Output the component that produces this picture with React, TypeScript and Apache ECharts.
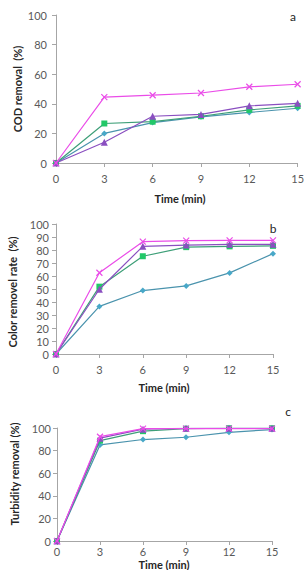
import React, { useEffect, useRef } from "react";
import * as echarts from "echarts";

const times = [0, 3, 6, 9, 12, 15];

// Panel a: COD removal (%)
const codMagenta = [0, 44.5, 45.8, 47.3, 51.5, 53.2];
const codPurple = [0, 14, 31.6, 32.8, 38.6, 40.3];
const codGreen = [0, 26.7, 27.9, 31.6, 35.9, 38.6];
const codTeal = [0, 20, 27.3, 31.2, 34.2, 37];

// Panel b: Color removel rate (%)
const colMagenta = [0, 62.5, 86.4, 87.2, 87.4, 87.4];
const colPurple = [0, 49.8, 82.8, 83.8, 84.4, 84.4];
const colGreen = [0, 51.8, 75.2, 82.2, 82.8, 83.2];
const colTeal = [0, 36.6, 48.8, 52.4, 62.4, 77.2];

// Panel c: Turbidity removal (%)
const turMagenta = [0, 92.3, 99.4, 99.5, 99.5, 99.5];
const turPurple = [0, 91, 99, 99.8, 99.8, 99.8];
const turGreen = [0, 88.8, 97.2, 99.4, 99.8, 99.8];
const turTeal = [0, 85, 89.8, 91.8, 96.2, 98.6];

const xTicks = [0, 3, 6, 9, 12, 15];

const MAG = "#ea4ce8";
const PUR = "#8a4fc0";
const GRN_LINE = "#3e9f78";
const GRN = "#22c868";
const TEAL_LINE = "#4a93ad";
const TEAL = "#48a8c8";

const AXIS = "#a6a6a6";
const LABEL = "#595959";
const FONT = "Lato, 'Open Sans', sans-serif";

const X_PATH = "path://M0,0L10,10M10,0L0,10";

function pts(ys: number[]) {
  return times.map((t, i) => [t, ys[i]]);
}

export default function App() {
  const ref = useRef<HTMLDivElement>(null);
  useEffect(() => {
    if (!ref.current) return;
    const chart = echarts.init(ref.current, undefined, { renderer: "svg" });

    const grids = [
      { left: 56, top: 15, width: 247, height: 148 },
      { left: 56, top: 224, width: 217, height: 130 },
      { left: 57, top: 428, width: 215, height: 113 },
    ];
    const yIntervals = [20, 10, 20];
    const xMargins = [10, 10, 5];
    const yMargins = [9, 7, 6];

    const xAxis = grids.map((_, i) => ({
      type: "value" as const,
      gridIndex: i,
      min: 0,
      max: 15,
      interval: 3,
      axisLine: { show: true, lineStyle: { color: AXIS, width: 1 } },
      axisTick: { show: true, length: 4, lineStyle: { color: AXIS } },
      splitLine: { show: false },
      axisLabel: {
        color: LABEL,
        fontSize: 11,
        fontFamily: FONT,
        margin: xMargins[i],
        showMaxLabel: true,
        formatter: (v: number) => (xTicks.includes(v) ? String(v) : ""),
      },
    }));
    const yAxis = grids.map((_, i) => ({
      type: "value" as const,
      gridIndex: i,
      min: 0,
      max: 100,
      interval: yIntervals[i],
      axisLine: { show: true, lineStyle: { color: AXIS, width: 1 } },
      axisTick: { show: true, length: 4, lineStyle: { color: AXIS } },
      splitLine: { show: false },
      axisLabel: {
        color: LABEL,
        fontSize: 11,
        fontFamily: FONT,
        margin: yMargins[i],
      },
    }));

    const panels = [
      [codTeal, codGreen, codPurple, codMagenta],
      [colTeal, colGreen, colPurple, colMagenta],
      [turTeal, turGreen, turPurple, turMagenta],
    ];

    const styles = [
      { line: TEAL_LINE, mark: TEAL, symbol: "diamond", size: 6 },
      { line: GRN_LINE, mark: GRN, symbol: "rect", size: 6 },
      { line: PUR, mark: PUR, symbol: "triangle", size: 7 },
      { line: MAG, mark: MAG, symbol: X_PATH, size: 6 },
    ];

    const series: any[] = [];
    panels.forEach((p, gi) => {
      p.forEach((ys, si) => {
        const st = styles[si];
        const isX = st.symbol === X_PATH;
        series.push({
          type: "line",
          xAxisIndex: gi,
          yAxisIndex: gi,
          data: pts(ys),
          symbol: st.symbol,
          symbolSize: st.size,
          showSymbol: true,
          lineStyle: { color: st.line, width: 1.2 },
          itemStyle: isX
            ? { color: "none", borderColor: st.mark, borderWidth: 1.2 }
            : { color: st.mark, borderWidth: 0 },
          z: 2 + si,
        });
      });
    });

    const titleStyle = {
      fill: "#262626",
      font: "bold 11px " + FONT,
      textAlign: "center",
      textVerticalAlign: "middle",
    } as any;

    const letterStyle = {
      fill: "#262626",
      font: "12px " + FONT,
      textAlign: "center",
      textVerticalAlign: "middle",
    } as any;

    const graphic: any[] = [
      { type: "text", x: 180, y: 198, style: { ...titleStyle, text: "Time (min)" } },
      { type: "text", x: 164, y: 387, style: { ...titleStyle, text: "Time (min)" } },
      {
        type: "text",
        x: 164,
        y: 570,
        style: { ...titleStyle, textVerticalAlign: "bottom", text: "Time (min)" },
      },
      {
        type: "text",
        x: 17,
        y: 89,
        rotation: Math.PI / 2,
        style: { ...titleStyle, text: "COD removal  (%)" },
      },
      {
        type: "text",
        x: 12,
        y: 292,
        rotation: Math.PI / 2,
        style: { ...titleStyle, text: "Color removel rate  (%)" },
      },
      {
        type: "text",
        x: 14,
        y: 474,
        rotation: Math.PI / 2,
        style: { ...titleStyle, text: "Turbidity removal (%)" },
      },
      { type: "text", x: 293, y: 16, style: { ...letterStyle, text: "a" } },
      { type: "text", x: 273, y: 228, style: { ...letterStyle, text: "b" } },
      { type: "text", x: 288, y: 411, style: { ...letterStyle, text: "c" } },
    ];

    chart.setOption({
      animation: false,
      backgroundColor: "#ffffff",
      grid: grids.map((g) => ({ ...g, containLabel: false })),
      xAxis,
      yAxis,
      series,
      graphic,
    });
    return () => chart.dispose();
  }, []);

  return (
    <div
      ref={ref}
      style={{ position: "fixed", left: 0, top: 0, width: 307, height: 570 }}
    />
  );
}
